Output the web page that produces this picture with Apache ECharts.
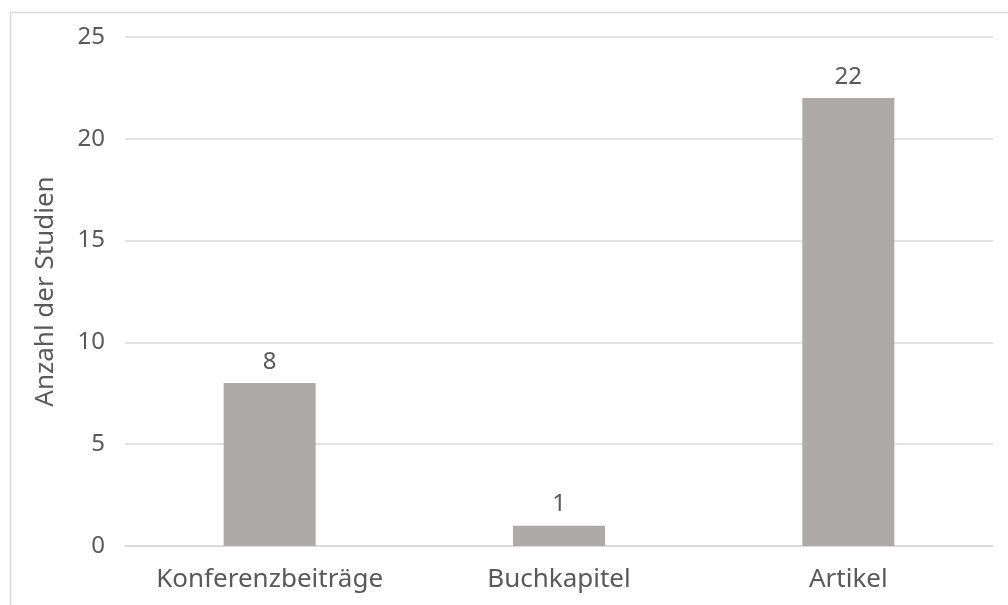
<!DOCTYPE html>
<html>
<head>
<meta charset="utf-8">
<script src="https://cdn.jsdelivr.net/npm/echarts@6/dist/echarts.min.js"></script>
<style>
  html, body { margin: 0; padding: 0; background: #fff; }
  #chart { width: 1008px; height: 605px; }
</style>
</head>
<body>
<div id="chart"></div>
<script>
// Publikationstypen der einbezogenen Studien
const categories = ['Konferenzbeiträge', 'Buchkapitel', 'Artikel'];
const counts = [8, 1, 22];
const yTicks = [0, 5, 10, 15, 20, 25];

const textColor = '#595959';
const gridColor = '#D9D9D9';
const barColor = '#AEAAAA';
const font = 'Noto Sans';

const chart = echarts.init(document.getElementById('chart'), null, { renderer: 'canvas' });
chart.setOption({
  animation: false,
  backgroundColor: '#fff',
  graphic: [{
    type: 'rect',
    left: 8, top: 10,
    shape: { width: 1010, height: 610 },
    style: { fill: 'none', stroke: gridColor, lineWidth: 1.5 },
    silent: true
  }],
  grid: { left: 125, right: 15, top: 37, bottom: 59, containLabel: false },
  xAxis: {
    type: 'category',
    data: categories,
    axisLine: { show: true, lineStyle: { color: gridColor, width: 1.5 } },
    axisTick: { show: false },
    axisLabel: {
      interval: 0,
      hideOverlap: false,
      color: textColor,
      fontFamily: font,
      fontSize: 26,
      margin: 21
    }
  },
  yAxis: {
    type: 'value',
    min: yTicks[0],
    max: yTicks[yTicks.length - 1],
    interval: 5,
    name: 'Anzahl der Studien',
    nameLocation: 'middle',
    nameGap: 66,
    nameRotate: 90,
    nameTextStyle: { color: textColor, fontFamily: font, fontSize: 26 },
    axisLine: { show: false },
    axisTick: { show: false },
    splitLine: { lineStyle: { color: gridColor, width: 1.5 } },
    axisLabel: { color: textColor, fontFamily: font, fontSize: 24, margin: 20 }
  },
  series: [{
    type: 'bar',
    data: counts,
    barWidth: 92,
    itemStyle: { color: barColor },
    label: {
      show: true,
      position: 'top',
      distance: 9,
      color: textColor,
      fontFamily: font,
      fontSize: 24
    }
  }]
});
</script>
</body>
</html>
